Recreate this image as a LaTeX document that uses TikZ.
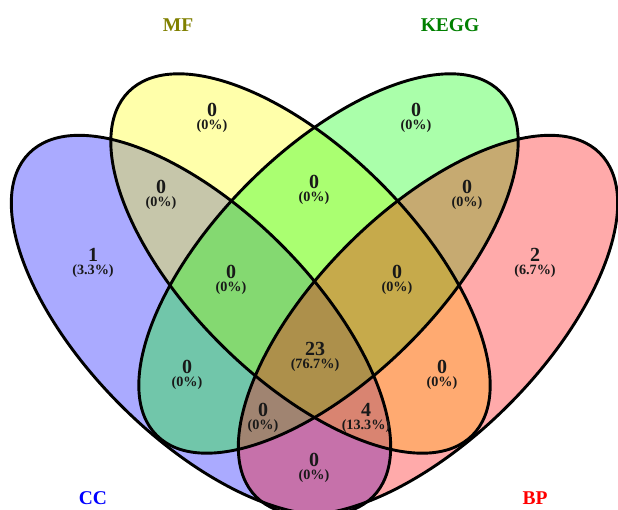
\documentclass[tikz,border=0pt]{standalone}
\usepackage{fontspec}
\setmainfont{Liberation Serif}
\usetikzlibrary{positioning}
\definecolor{vennCC}{RGB}{0,0,255}
\definecolor{vennMF}{RGB}{255,255,0}
\definecolor{vennKEGG}{RGB}{0,255,0}
\definecolor{vennBP}{RGB}{255,0,0}
\definecolor{txtMF}{RGB}{128,128,0}
\definecolor{txtKEGG}{RGB}{0,128,0}

\begin{document}
\begin{tikzpicture}[x=1pt, y=-1pt,
    setfill/.style={fill opacity=0.333},
    setline/.style={draw=black, line width=2.9pt},
    countlbl/.style={font=\fontsize{14.2}{13.2}\selectfont\bfseries, align=center,
      inner sep=0pt, text=black!90},
    catlbl/.style={font=\fontsize{19.5}{19.5}\selectfont\bfseries, inner sep=0pt}
  ]
  \fill[white] (0,0) rectangle (618,509);
  \useasboundingbox (0,0) rectangle (618,509);
  % set fills first, outlines on top
  \foreach \cx/\cy/\ang/\col in {201/325/-45/vennCC, 300.5/263.5/-45/vennMF,
      328.5/263.5/45/vennKEGG, 428/325/45/vennBP}
    \fill[setfill, fill=\col, rotate around={\ang:(\cx,\cy)}]
      (\cx,\cy) ellipse [x radius=243, y radius=113.5];
  \foreach \cx/\cy/\ang in {201/325/-45, 300.5/263.5/-45, 328.5/263.5/45, 428/325/45}
    \draw[setline, rotate around={\ang:(\cx,\cy)}]
      (\cx,\cy) ellipse [x radius=243, y radius=113.5];
  % region counts (y is the centre of the count digit)
  \foreach \nm/\x/\y/\n/\p in {mf/212/110/0/(0\%), kegg/416/110/0/(0\%),
      ccmf/161/187/0/(0\%), mfkegg/314/182/0/(0\%), keggbp/467/187/0/(0\%),
      cc/93/255/1/(3.3\%), bp/535/255/2/(6.7\%),
      ccmfkegg/231/272/0/(0\%), mfkeggbp/397/272/0/(0\%),
      all/315/349/23/(76.7\%),
      cckegg/187/367/0/(0\%), mfbp/442/367/0/(0\%),
      cckeggbp/263/410/0/(0\%), ccmfbp/366/410/4/(13.3\%),
      ccbp/314/460/0/(0\%)}
    \node[countlbl] (r\nm) at (\x,\y+8.2)
      {{\fontsize{20}{13.2}\selectfont\n}\\\p};
  % set names
  \node[catlbl, text=txtMF] (lblMF) at (178,25) {MF};
  \node[catlbl, text=txtKEGG] (lblKEGG) at (450,25) {KEGG};
  \node[catlbl, text=vennCC] (lblCC) at (93,498) {CC};
  \node[catlbl, text=vennBP] (lblBP) at (535,498) {BP};
\end{tikzpicture}
\end{document}
